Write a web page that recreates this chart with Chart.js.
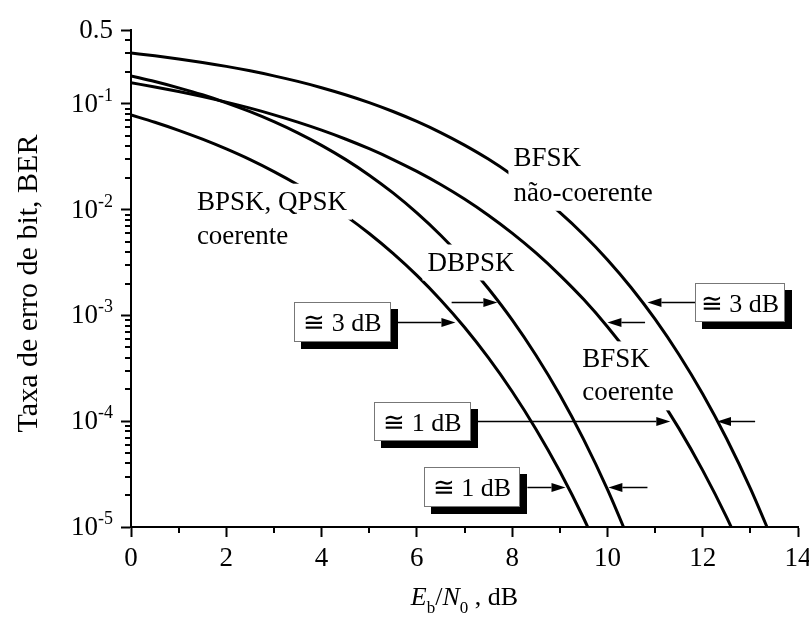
<!DOCTYPE html>
<html><head><meta charset="utf-8">
<script src="https://cdn.jsdelivr.net/npm/chart.js@4"></script>
<style>html,body{margin:0;padding:0;background:#fff;}#wrap{width:809px;height:619px;}</style>
</head><body><div id="wrap"><canvas id="c" width="809" height="619"></canvas></div>
<script>
// Eb/N0 in dB
const ebn0 = [0,0.5,1,1.5,2,2.5,3,3.5,4,4.5,5,5.5,6,6.5,7,7.5,8,8.5,9,9.5,10,10.5,11,11.5,12,12.5,13,13.5,14];
// BER read for each curve
const berBpsk = [0.0786,0.0671,0.0563,0.0464,0.0375,0.0297,0.0229,0.0172,0.0125,0.00879,0.00595,0.00386,0.00239,0.00140,7.73e-4,3.99e-4,1.91e-4,8.40e-5,3.36e-5,1.21e-5,3.87e-6];
const berDbpsk = [0.184,0.163,0.142,0.122,0.1025,0.0845,0.068,0.0533,0.0406,0.0299,0.0212,0.0144,0.00933,0.00574,0.00333,0.0018,9.09e-4,4.21e-4,1.78e-4,6.74e-5,2.27e-5,6.7e-6];
const berBfskCoh = [0.1587,0.1447,0.1309,0.1173,0.104,0.0912,0.0789,0.0673,0.0565,0.0466,0.0377,0.0298,0.023,0.0173,0.0126,0.00886,0.006,0.0039,0.00241,0.00142,7.83e-4,4.04e-4,1.94e-4,8.56e-5,3.43e-5,1.24e-5,3.97e-6];
const berBfskNc = [0.3033,0.2853,0.2664,0.2468,0.2264,0.2055,0.1843,0.1633,0.1424,0.1222,0.1029,0.0848,0.0683,0.0536,0.0408,0.0301,0.0213,0.0145,0.00942,0.0058,0.00337,0.00183,9.23e-4,4.28e-4,1.81e-4,6.87e-5,2.32e-5,6.9e-6];
const seriesNames = ['BPSK, QPSK coerente','DBPSK','BFSK coerente','BFSK não-coerente'];
// ticks
const xTickValues = [0,2,4,6,8,10,12,14];
const xMinorTicks = [1,3,5,7,9,11,13];
const yTickValues = [1e-5,1e-4,1e-3,1e-2,1e-1,0.5];
const yTickBase = ['10','10','10','10','10','0.5'];
const yTickExp = ['-5','-4','-3','-2','-1',''];
const xTitle = ['E','b','/','N','0',' , dB'];
const yTitle = 'Taxa de erro de bit, BER';

const toXY = arr => arr.map((v,i)=>({x: ebn0[i], y: v}));
const FONT = "'Liberation Serif', 'Times New Roman', serif";

const yMinor = [];
[1e-5,1e-4,1e-3,1e-2,1e-1].forEach(d=>{for(let k=2;k<=9;k++){const v=d*k; if(v<0.5-1e-9) yMinor.push(v);}});

const annot = {
  id:'annot',
  afterDraw(chart){
    const ctx=chart.ctx, xs=chart.scales.x, ys=chart.scales.y, ca=chart.chartArea;
    const X=v=>xs.getPixelForValue(v), Y=v=>ys.getPixelForValue(v);
    ctx.save();
    ctx.fillStyle='#000'; ctx.textBaseline='alphabetic';
    // y tick labels
    yTickValues.forEach((v,i)=>{
      const y=Y(v); const right=113;
      ctx.font='27px '+FONT; const wb=ctx.measureText(yTickBase[i]).width;
      ctx.font='18px '+FONT; const we=yTickExp[i]?ctx.measureText(yTickExp[i]).width:0;
      const x0=right-wb-we;
      ctx.font='27px '+FONT; ctx.textAlign='left'; ctx.fillText(yTickBase[i],x0,y+8);
      if(yTickExp[i]){ctx.font='18px '+FONT; ctx.fillText(yTickExp[i],x0+wb,y-3);}
    });
    // y title
    ctx.save(); ctx.translate(37,(ca.top+ca.bottom)/2+5); ctx.rotate(-Math.PI/2);
    ctx.font='30px '+FONT; ctx.textAlign='center'; ctx.fillText(yTitle,0,0); ctx.restore();
    // x title
    {
      const parts=[{t:xTitle[0],f:'italic 26px ',dy:0},{t:xTitle[1],f:'17px ',dy:8},{t:xTitle[2],f:'26px ',dy:0},{t:xTitle[3],f:'italic 26px ',dy:0},{t:xTitle[4],f:'17px ',dy:8},{t:xTitle[5],f:'26px ',dy:0}];
      let tw=0; parts.forEach(p=>{ctx.font=p.f+FONT; p.w=ctx.measureText(p.t).width; tw+=p.w;});
      let x=(ca.left+ca.right)/2-tw/2; const base=605; ctx.textAlign='left';
      parts.forEach(p=>{ctx.font=p.f+FONT; ctx.fillText(p.t,x,base+p.dy); x+=p.w;});
    }
    // curve labels with white background (cuts the curve like the original)
    const curveLabels=[
      {x:1.383,y:1.0e-2,lines:['BPSK, QPSK','coerente'],lh:34},
      {x:6.225,y:2.66e-3,lines:['DBPSK'],lh:34},
      {x:8.027,y:2.6e-2,lines:['BFSK','não-coerente'],lh:35},
      {x:9.473,y:3.23e-4,lines:['BFSK','coerente'],lh:33}
    ];
    ctx.font='27px '+FONT; ctx.textAlign='left';
    curveLabels.forEach(L=>{
      const x=X(L.x), y=Y(L.y);
      L.lines.forEach((t,i)=>{const w=ctx.measureText(t).width; const b=y+i*L.lh; ctx.fillStyle='#fff'; ctx.fillRect(x-5,b-26,w+10,36);});
      ctx.fillStyle='#000';
      L.lines.forEach((t,i)=>ctx.fillText(t,x,y+i*L.lh));
    });
    // arrows
    const arrows=[
      {y:8.6e-4,from:5.60,to:6.81},{y:1.33e-3,from:6.73,to:7.69},
      {y:1.33e-3,from:11.84,to:10.84},{y:8.6e-4,from:10.79,to:10.00},
      {y:1e-4,from:7.27,to:11.32},{y:1e-4,from:13.10,to:12.30},
      {y:2.38e-5,from:8.32,to:9.12},{y:2.38e-5,from:10.84,to:10.02}
    ];
    ctx.strokeStyle='#000'; ctx.fillStyle='#000'; ctx.lineWidth=1.5;
    arrows.forEach(a=>{
      const y=Math.round(Y(a.y))+0.5, x0=X(a.from), x1=X(a.to), dir=Math.sign(x1-x0), hl=14, hw=4.5;
      ctx.beginPath(); ctx.moveTo(x0,y); ctx.lineTo(x1-dir*hl,y); ctx.stroke();
      ctx.beginPath(); ctx.moveTo(x1,y); ctx.lineTo(x1-dir*hl,y-hw); ctx.lineTo(x1-dir*hl,y+hw); ctx.closePath(); ctx.fill();
    });
    // boxes with shadow
    const boxes=[
      {x:3.42,y:8.6e-4,w:97,h:40,t:'\u2245 3 dB'},
      {x:11.84,y:1.33e-3,w:90,h:39,t:'\u2245 3 dB'},
      {x:5.11,y:1e-4,w:97,h:39,t:'\u2245 1 dB'},
      {x:6.14,y:2.38e-5,w:96,h:40,t:'\u2245 1 dB'}
    ];
    boxes.forEach(b=>{
      const x=Math.round(X(b.x)), yc=Y(b.y), y=Math.round(yc-b.h/2);
      ctx.fillStyle='#000'; ctx.fillRect(x+7,y+7,b.w,b.h);
      ctx.fillStyle='#fff'; ctx.fillRect(x,y,b.w,b.h);
      ctx.strokeStyle='#777'; ctx.lineWidth=1; ctx.strokeRect(x+0.5,y+0.5,b.w-1,b.h-1);
      ctx.fillStyle='#000'; ctx.font='26px '+FONT; ctx.textAlign='center';
      ctx.fillText(b.t,x+b.w/2,y+b.h/2+9);
    });
    // minor ticks
    ctx.fillStyle='#000';
    yMinor.forEach(v=>{const y=Math.round(Y(v)); ctx.fillRect(Math.round(ca.left)-6,y-1,6,2);});
    xMinorTicks.forEach(v=>{const x=Math.round(X(v)); ctx.fillRect(x-1,Math.round(ca.bottom),2,6);});
    ctx.restore();
  }
};

const mk=(label,arr)=>({label,data:toXY(arr),borderColor:'#000',borderWidth:3,pointRadius:0,fill:false,cubicInterpolationMode:'monotone'});

new Chart(document.getElementById('c'),{
  type:'line',
  data:{datasets:[mk(seriesNames[0],berBpsk),mk(seriesNames[1],berDbpsk),mk(seriesNames[2],berBfskCoh),mk(seriesNames[3],berBfskNc)]},
  options:{
    responsive:false, animation:false, devicePixelRatio:1, events:[],
    layout:{padding:{top:30,right:11,left:0,bottom:0}},
    plugins:{legend:{display:false},tooltip:{enabled:false}},
    scales:{
      x:{type:'linear',min:0,max:14,
        afterBuildTicks:s=>{s.ticks=xTickValues.map(v=>({value:v}));},
        afterFit:s=>{s.height=92; s.paddingLeft=0; s.paddingRight=0;},
        grid:{drawOnChartArea:false,drawTicks:true,tickLength:10,tickWidth:2,tickColor:'#000'},
        border:{display:true,color:'#000',width:2},
        ticks:{color:'#000',font:{family:"'Liberation Serif'",size:27},padding:6,maxRotation:0,autoSkip:false}
      },
      y:{type:'logarithmic',min:1e-5,max:0.5,
        afterBuildTicks:s=>{s.ticks=yTickValues.map(v=>({value:v}));},
        afterFit:s=>{s.width=131; s.paddingTop=0; s.paddingBottom=0;},
        grid:{drawOnChartArea:false,drawTicks:true,tickLength:10,tickWidth:2,tickColor:'#000'},
        border:{display:true,color:'#000',width:2},
        ticks:{display:false}
      }
    }
  },
  plugins:[annot]
});
</script></body></html>
